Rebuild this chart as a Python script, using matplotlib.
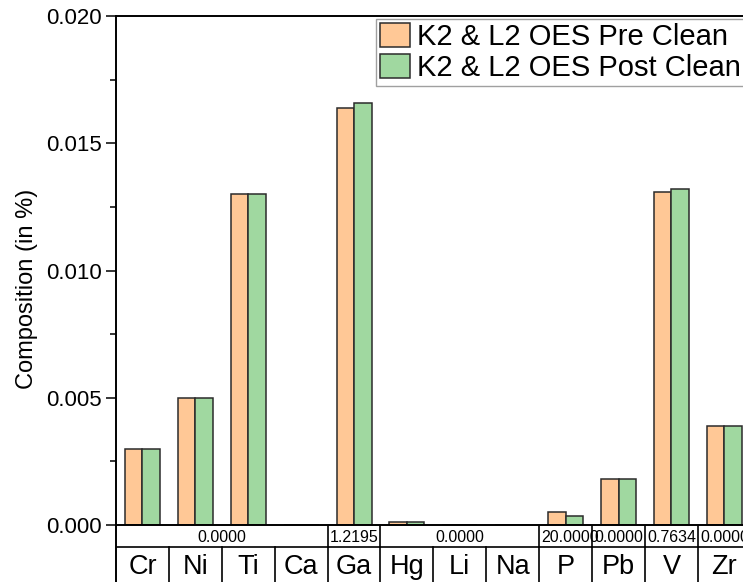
import numpy as np
import matplotlib.pyplot as plt
from matplotlib.patches import Rectangle
from matplotlib.ticker import MultipleLocator, FormatStrFormatter

plt.rcParams['font.family'] = ['Liberation Sans', 'DejaVu Sans']

elements = ["Cr", "Ni", "Ti", "Ca", "Ga", "Hg", "Li", "Na", "P", "Pb", "V", "Zr"]
pre_clean = [0.0030, 0.0050, 0.0130, 0.0, 0.0164, 0.0001, 0.0, 0.0, 0.0005, 0.0018, 0.0131, 0.0039]
post_clean = [0.0030, 0.0050, 0.0130, 0.0, 0.0166, 0.0001, 0.0, 0.0, 0.00035, 0.0018, 0.0132, 0.0039]
# second label row (equal neighbours share one cell)
ratio_row = ["0.0000", "0.0000", "0.0000", "0.0000", "1.2195", "0.0000", "0.0000", "0.0000",
             "20.0000", "0.0000", "0.7634", "0.0000"]

W, H = 743, 582
fig = plt.figure(figsize=(W / 100, H / 100), dpi=100)

x0, top, base = 116, 16, 525
step = 52.9
ax_w = step * len(elements)
ax = fig.add_axes([x0 / W, 1 - base / H, ax_w / W, (base - top) / H])

x = np.arange(len(elements))
bw = 0.33
ax.bar(x - bw / 2, pre_clean, bw, color="#FFC896", edgecolor="#2b2b2b", lw=1.1,
       label="K2 & L2 OES Pre Clean")
ax.bar(x + bw / 2, post_clean, bw, color="#A0D8A0", edgecolor="#2b2b2b", lw=1.1,
       label="K2 & L2 OES Post Clean")

ax.set_xlim(-0.5, len(elements) - 0.5)
ax.set_ylim(0, 0.020)
ax.yaxis.set_major_locator(MultipleLocator(0.005))
ax.yaxis.set_minor_locator(MultipleLocator(0.0025))
ax.yaxis.set_major_formatter(FormatStrFormatter("%.3f"))
ax.tick_params(axis="y", which="major", direction="out", length=7, width=1.1, labelsize=16, pad=3)
ax.tick_params(axis="y", which="minor", direction="out", length=4, width=1.1)
ax.tick_params(axis="x", bottom=False, labelbottom=False)
for s in ax.spines.values():
    s.set_linewidth(1.4)
ax.set_ylabel("Composition (in %)", fontsize=17, va="center")
ax.yaxis.set_label_coords(-0.140, 0.464)

leg = fig.legend(loc="upper left", bbox_to_anchor=(376 / W, 1 - 19 / H), fontsize=21,
                 frameon=True, fancybox=False, edgecolor="#888888", borderpad=0.12,
                 handlelength=1.05, handleheight=0.9, handletextpad=0.22,
                 labelspacing=0.12, borderaxespad=0)
leg.get_frame().set_linewidth(1.0)

# table of labels under the axis
tb_h = 64
tax = fig.add_axes([x0 / W, 1 - (base + tb_h) / H, ax_w / W, tb_h / H])
tax.set_xlim(-0.5, len(elements) - 0.5)
tax.set_ylim(0, tb_h)
tax.axis("off")
lw = 1.2
row_split = tb_h - 22
tax.plot([-0.5, -0.5], [0, tb_h], color="black", lw=1.4, clip_on=False)
tax.plot([-0.5, len(elements) - 0.5], [row_split, row_split], color="black", lw=lw)

# element names
for i, name in enumerate(elements):
    tax.text(i, 22, name, ha="center", va="center", fontsize=19.5)
    tax.plot([i + 0.5, i + 0.5], [0, row_split], color="black", lw=lw)

# merge consecutive equal values in the ratio row
groups = []
start = 0
for i in range(1, len(ratio_row) + 1):
    if i == len(ratio_row) or ratio_row[i] != ratio_row[start]:
        groups.append((start, i - 1, ratio_row[start]))
        start = i

fig.canvas.draw()
renderer = fig.canvas.get_renderer()
for a, b, val in groups:
    left, right = a - 0.5, b + 0.5
    tax.plot([right, right], [row_split, tb_h], color="black", lw=lw)
    clip = Rectangle((left, row_split), right - left, tb_h - row_split, transform=tax.transData,
                     fill=False, visible=False)
    tax.add_patch(clip)
    t = tax.text((left + right) / 2, 52, val, ha="center", va="center", fontsize=11.5)
    t.set_clip_path(clip)
    cell_px = (right - left) * step
    if t.get_window_extent(renderer).width > cell_px:
        t.set_ha("left")
        t.set_x(left + 0.03)

fig.savefig("out.png", dpi=100)
